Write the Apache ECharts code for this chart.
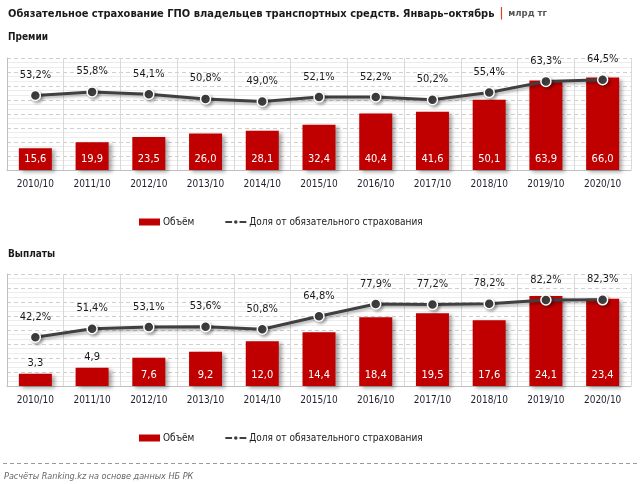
<!DOCTYPE html>
<html><head><meta charset="utf-8">
<script src="https://cdn.jsdelivr.net/npm/echarts@6/dist/echarts.min.js"></script>
<style>html,body{margin:0;padding:0;background:#fff}#c{width:643px;height:484px}</style>
</head><body><div id="c"></div>
<script>
var categories = ['2010/10','2011/10','2012/10','2013/10','2014/10','2015/10','2016/10','2017/10','2018/10','2019/10','2020/10'];
var premVolume = [15.6,19.9,23.5,26.0,28.1,32.4,40.4,41.6,50.1,63.9,66.0];
var premShare  = [53.2,55.8,54.1,50.8,49.0,52.1,52.2,50.2,55.4,63.3,64.5];
var payVolume  = [3.3,4.9,7.6,9.2,12.0,14.4,18.4,19.5,17.6,24.1,23.4];
var payShare   = [42.2,51.4,53.1,53.6,50.8,64.8,77.9,77.2,78.2,82.2,82.3];

var FONT = '"DejaVu Sans Condensed","Liberation Sans",sans-serif';
var RED = '#C00000', DARK = '#404040';
function fmt(v){ return v.toFixed(1).replace('.', ','); }

var chart = echarts.init(document.getElementById('c'), null, {renderer:'canvas'});

function xAxis(gi){
  return {type:'category', gridIndex:gi, data:categories, boundaryGap:true,
    axisLine:{lineStyle:{color:'#bfbfbf'}}, axisTick:{show:false},
    axisLabel:{color:'#1f1f2f', fontFamily:FONT, fontSize:10, margin:9, interval:0},
    splitLine:{show:true, lineStyle:{color:'#d9d9d9', width:1}}};
}
function barAxis(gi, max, interval){
  return {type:'value', gridIndex:gi, min:0, max:max, interval:interval,
    axisLine:{show:true, lineStyle:{color:'#bfbfbf'}}, axisTick:{show:false}, axisLabel:{show:false},
    splitLine:{show:true, lineStyle:{color:'#cfcfcf', type:[4,3], width:1}},
    minorTick:{show:false, splitNumber:3},
    minorSplitLine:{show:true, lineStyle:{color:'#ececec', width:1}}};
}
function lineAxis(gi, min, max){
  return {type:'value', gridIndex:gi, min:min, max:max, show:false, splitLine:{show:false}};
}
function barSeries(gi, vals, threshold){
  return {type:'bar', name:'Объём', xAxisIndex:gi, yAxisIndex:gi*2, barWidth:33,
    itemStyle:{color:RED, shadowColor:'rgba(0,0,0,0.35)', shadowBlur:4, shadowOffsetX:3, shadowOffsetY:2},
    data: vals.map(function(v){
      var outside = v < threshold;
      return {value:v, label:{show:true, position: outside ? 'top' : 'insideBottom',
        distance: 5, color: outside ? '#1a1a1a' : '#fff',
        fontFamily:FONT, fontSize:11, formatter:function(p){return fmt(p.value);}}};
    }),
    z:2};
}
function lineSeries(gi, vals){
  return {type:'line', name:'Доля от обязательного страхования', xAxisIndex:gi, yAxisIndex:gi*2+1,
    data:vals, symbol:'circle', symbolSize:10,
    lineStyle:{color:DARK, width:3, shadowColor:'rgba(0,0,0,0.3)', shadowBlur:3, shadowOffsetX:2, shadowOffsetY:2},
    itemStyle:{color:DARK, borderColor:'#fff', borderWidth:1.5, shadowColor:'rgba(0,0,0,0.3)', shadowBlur:3, shadowOffsetX:2, shadowOffsetY:2},
    label:{show:true, position:'top', distance:9, color:'#1a1a1a', fontFamily:FONT, fontSize:11,
      formatter:function(p){return fmt(p.value)+'%';}},
    z:5};
}
function legend(top){
  return {top:top, left:134, itemWidth:21, itemHeight:7, itemGap:30,
    textStyle:{fontFamily:FONT, fontSize:10, color:'#1a1a1a', padding:[0,0,0,-2]},
    data:[{name:'Объём', icon:'rect'}, {name:'Доля от обязательного страхования'}]};
}

var option = {
  backgroundColor:'#fff',
  animation:false,
  title:[
    {text:'{b|Обязательное страхование ГПО владельцев транспортных средств. Январь–октябрь} {r||} {g|млрд тг}',
     left:3, top:0, textStyle:{rich:{
       b:{fontFamily:FONT, fontWeight:'bold', fontSize:11, color:'#1a1a1a'},
       r:{fontFamily:FONT, fontSize:12, color:'#d24726'},
       g:{fontFamily:FONT, fontSize:9.5, color:'#555'}}}},
    {text:'Премии', left:3, top:27, textStyle:{fontFamily:FONT, fontWeight:'bold', fontSize:10, color:'#1a1a1a'}},
    {text:'Выплаты', left:3, top:244, textStyle:{fontFamily:FONT, fontWeight:'bold', fontSize:10, color:'#1a1a1a'}},
    {text:'Расчёты Ranking.kz на основе данных НБ РК', left:-1, top:467,
     textStyle:{fontFamily:FONT, fontStyle:'italic', fontWeight:'normal', fontSize:9, color:'#666'}}
  ],
  legend:[legend(212), legend(428)],
  grid:[
    {left:7, right:12, top:58, height:112},
    {left:7, right:12, top:274, height:112}
  ],
  xAxis:[xAxis(0), xAxis(1)],
  yAxis:[barAxis(0,80,10), lineAxis(0,0,80), barAxis(1,30,3.75), lineAxis(1,-10,110)],
  series:[barSeries(0, premVolume, 0), lineSeries(0, premShare), barSeries(1, payVolume, 6), lineSeries(1, payShare)],
  graphic:[
    {type:'line', shape:{x1:3, y1:463.5, x2:640, y2:463.5}, style:{stroke:'#9a9a9a', lineWidth:1, lineDash:[4,3]}}
  ]
};
chart.setOption(option);
</script>
</body></html>
